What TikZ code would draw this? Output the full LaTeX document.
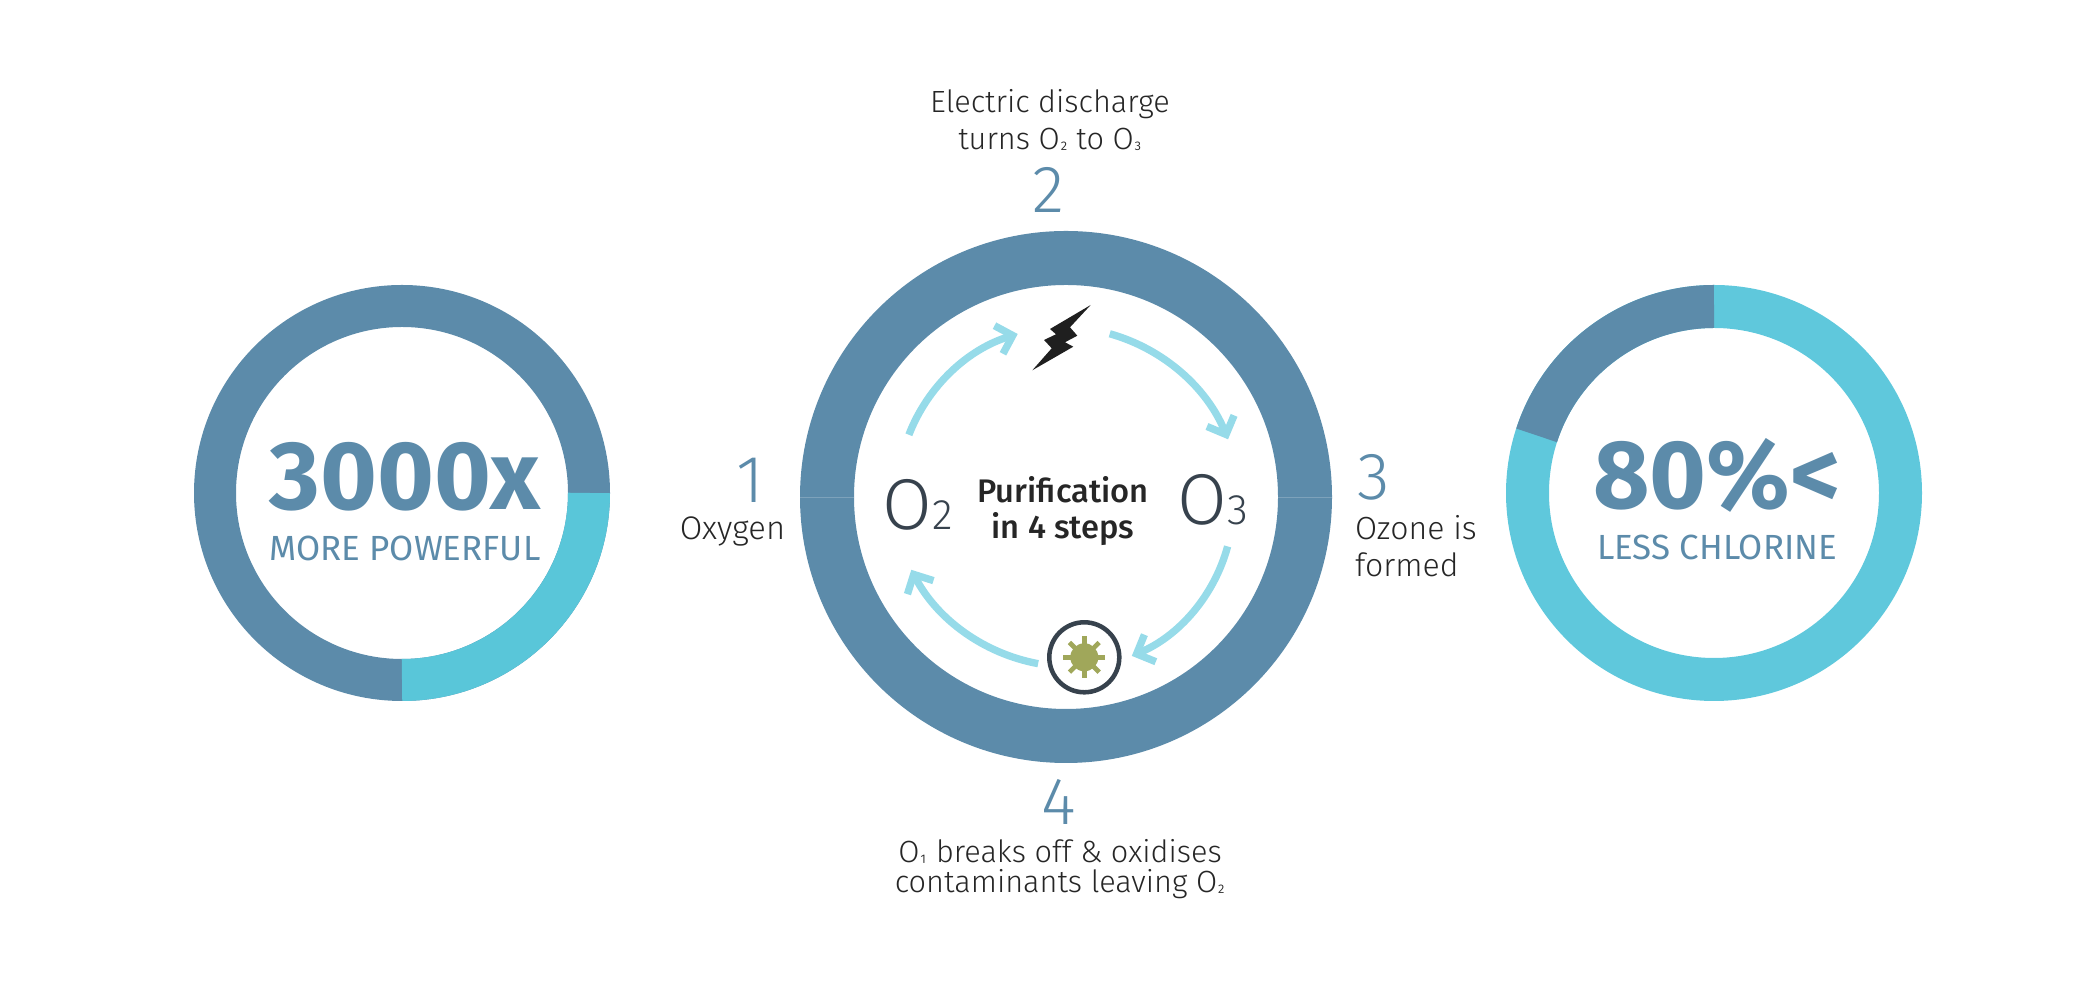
\documentclass[tikz,border=0pt]{standalone}
\usepackage{fontspec}
\setmainfont{Fira Sans}
\newfontfamily\lightfont{Fira Sans Light}
\newfontfamily\medfont{Fira Sans Medium}
\usetikzlibrary{arrows.meta}
\definecolor{ringblue}{HTML}{5C8BAA}
\definecolor{ringcyan}{HTML}{59C6D9}
\definecolor{ringpale}{HTML}{5FC8DC}
\definecolor{arrowblue}{HTML}{96DBE9}
\definecolor{slate}{HTML}{37424D}
\definecolor{germ}{HTML}{A0A75A}
\tikzset{
  lbl/.style={inner sep=0pt, anchor=base, text=black!85, font=\lightfont\fontsize{23}{27.75}\selectfont, align=center},
  stepnum/.style={inner sep=0pt, anchor=base, text=ringblue, font=\lightfont\fontsize{50}{50}\selectfont},
  gas/.style={inner sep=0pt, anchor=base, text=slate, font=\lightfont\fontsize{54}{54}\selectfont},
  bignum/.style={inner sep=0pt, anchor=base, text=ringblue, font=\bfseries\fontsize{73}{73}\selectfont},
  bigcap/.style={inner sep=0pt, anchor=base, text=ringblue, font=\fontsize{26.2}{26.2}\selectfont},
  flow/.style={draw=arrowblue, line width=5.5pt, -{Straight Barb[length=11pt,width=22pt,line width=5.5pt]}, bend left=26, looseness=0.9},
}
\newcommand{\gassub}[1]{{\fontsize{32}{32}\selectfont #1}}
\newcommand{\lowsub}[1]{\raisebox{2.5pt}{\fontsize{15}{15}\selectfont #1}}
\begin{document}
\begin{tikzpicture}[x=0.75pt, y=0.75pt]
    \useasboundingbox (0,0) rectangle (2100,1002);
    \coordinate (left) at (402,509);
    \coordinate (mid) at (1066,505);
    \coordinate (right) at (1714,509);
    % rings
    \draw[ringblue, line width=31.5pt] (left) circle[radius=187];
    \draw[ringcyan, line width=31.5pt] ([shift={(0:187)}]left) arc[start angle=0, end angle=-90, radius=187];
    \draw[ringpale, line width=32.25pt] (right) circle[radius=186.5];
    \draw[ringblue, line width=32.25pt] ([shift={(90:186.5)}]right) arc[start angle=90, end angle=162, radius=186.5];
    \draw[ringblue, line width=40.5pt] (mid) circle[radius=239];
    \draw[ringblue!80!white, line width=0.6pt] ([shift={(180:212)}]mid) -- ([shift={(180:266)}]mid);
    \draw[ringblue!80!white, line width=0.6pt] ([shift={(0:212)}]mid) -- ([shift={(0:266)}]mid);
    % left and right captions
    \node[bignum] (powernum) at (405,492) {3000x};
    \node[bigcap] (powercap) at (405,441) {MORE POWERFUL};
    \node[bignum] (chlornum) at (1717,493) {80\%<};
    \node[bigcap] (chlorcap) at (1717,442) {LESS CHLORINE};
    % step labels
    \node[stepnum] (num1) at (750,499) {1};
    \node[stepnum] (num2) at (1048,789) {2};
    \node[stepnum] (num3) at (1374,502) {3};
    \node[stepnum] (num4) at (1059,177) {4};
    \node[lbl, font=\lightfont\fontsize{24.5}{27.75}\selectfont] (oxygen) at (732.5,462) {Oxygen};
    \node[lbl] (disch) at (1050,852) {Electric discharge\\turns O\lowsub{₂} to O\lowsub{₃}};
    \node[lbl, align=left, font=\lightfont\fontsize{24}{27.75}\selectfont] (ozone) at (1416,425) {Ozone is\\formed};
    \node[lbl, font=\lightfont\fontsize{23}{22.5}\selectfont] (breaks) at (1060,109) {O\lowsub{₁} breaks off \& oxidises\\contaminants leaving O\lowsub{₂}};
    % inside the big ring
    \node[inner sep=0pt, anchor=base, align=center, font=\medfont\fontsize{24.5}{27}\selectfont, text=black!85] (title) at (1063,463) {Purification\\in 4 steps};
    \node[gas] (otwo) at (918,472) {O\gassub{2}};
    \node[gas] (othree) at (1213,477) {O\gassub{3}};
    % bolt
    \fill[black!88] (1090.7,697) -- (1050,673) -- (1056,667.7) -- (1044,662) -- (1051.7,653.7) -- (1032.3,631.7)
      -- (1073.3,655.3) -- (1065,659.7) -- (1077.3,666.3) -- (1070,674.7) -- cycle;
    % germ
    \coordinate (germ) at (1084.3,344.7);
    \draw[slate, line width=3.4pt] (germ) circle[radius=35];
    \fill[germ] (germ) circle[radius=14];
    \foreach \ang in {0,45,...,315}
      \draw[germ, line width=3.5pt] (germ) -- ++(\ang:21);
    % arrows
    \coordinate (a1) at ([shift={(158.4:169)}]mid);
    \coordinate (b1) at ([shift={(106.5:170)}]mid);
    \coordinate (a2) at ([shift={(75:169)}]mid);
    \coordinate (b2) at ([shift={(19.6:172)}]mid);
    \coordinate (a3) at ([shift={(-17:169)}]mid);
    \coordinate (b3) at ([shift={(-67.5:172)}]mid);
    \coordinate (a4) at ([shift={(-99.5:169)}]mid);
    \coordinate (b4) at ([shift={(-154.8:171)}]mid);
    \draw[flow] (a1) to (b1);
    \draw[flow] (a2) to (b2);
    \draw[flow] (a3) to (b3);
    \draw[flow] (a4) to (b4);
\end{tikzpicture}
\end{document}
